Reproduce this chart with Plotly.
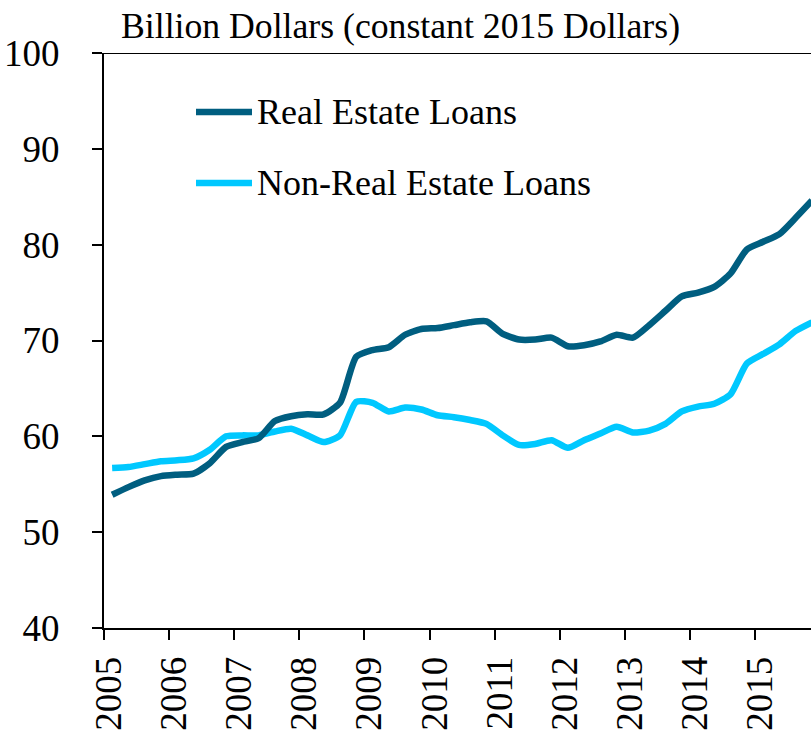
import plotly.graph_objects as go

years = list(range(2005, 2016))
quarters = [y + (q - 0.5) / 4 for y in years for q in range(1, 5)]

series_names = ["Real Estate Loans", "Non-Real Estate Loans"]
series_colors = ["#005E80", "#00C8FF"]

real_estate = [
    53.9, 54.7, 55.4, 55.85, 56.0, 56.1, 57.2, 58.9, 59.4, 59.8, 61.6, 62.1,
    62.3, 62.3, 63.5, 68.3, 69.0, 69.3, 70.6, 71.2, 71.3, 71.6, 71.9, 72.0,
    70.7, 70.1, 70.1, 70.3, 69.4, 69.5, 69.9, 70.6, 70.3, 71.6, 73.1, 74.6,
    75.0, 75.6, 77.0, 79.5, 80.3, 81.1, 82.8, 84.6,
]
non_real_estate = [
    56.7, 56.8, 57.1, 57.4, 57.5, 57.7, 58.6, 60.0, 60.1, 60.1, 60.5, 60.8,
    60.1, 59.4, 60.1, 63.6, 63.5, 62.6, 63.0, 62.8, 62.2, 62.0, 61.7, 61.3,
    60.1, 59.1, 59.2, 59.6, 58.8, 59.6, 60.3, 61.0, 60.4, 60.6, 61.3, 62.6,
    63.1, 63.4, 64.4, 67.6, 68.6, 69.6, 71.0, 71.9,
]
y_ticks = [40, 50, 60, 70, 80, 90, 100]
title_text = "Billion Dollars (constant 2015 Dollars)"

FONT = "Liberation Serif"
W, H = 811, 734
ML, MT, MB = 104, 53, 106
PW, PH = W - ML, H - MT - MB

fig = go.Figure()
for name, color, vals in [(series_names[1], series_colors[1], non_real_estate),
                          (series_names[0], series_colors[0], real_estate)]:
    fig.add_trace(go.Scatter(
        x=quarters, y=vals, mode="lines", name=name,
        line=dict(color=color, width=6.5, shape="spline", smoothing=0.6),
        showlegend=False,
    ))

# manual legend
legend_rows_px = [112, 183]
shapes = []
annotations = []
for name, color, ypx in zip(series_names, series_colors, legend_rows_px):
    yp = (H - MB - ypx) / PH
    shapes.append(dict(type="line", xref="paper", yref="paper",
                       x0=(196 - ML) / PW, x1=(252 - ML) / PW, y0=yp, y1=yp,
                       line=dict(color=color, width=6.5)))
    annotations.append(dict(text=name, xref="paper", yref="paper",
                            x=(255 - ML) / PW, y=yp, xanchor="left", yanchor="middle",
                            showarrow=False, font=dict(family=FONT, size=36, color="black")))

# top border line
shapes.append(dict(type="line", xref="paper", yref="y", x0=0, x1=1, y0=100, y1=100,
                   line=dict(color="black", width=2)))

annotations.append(dict(text=title_text, xref="paper", yref="paper",
                        x=(119 - ML) / PW, y=(H - MB - 26) / PH,
                        xanchor="left", yanchor="middle", showarrow=False,
                        font=dict(family=FONT, size=35.7, color="black")))

fig.update_layout(
    width=W, height=H,
    margin=dict(l=ML, r=0, t=MT, b=MB, pad=0, autoexpand=False),
    paper_bgcolor="white", plot_bgcolor="white",
    shapes=shapes, annotations=annotations,
    font=dict(family=FONT, color="black"),
)
fig.update_xaxes(
    range=[2005, 2005 + PW / 65.1], tickmode="array", tickvals=years,
    ticktext=[str(y) for y in years], tickangle=-90,
    showgrid=False, zeroline=False, showline=True, linecolor="black", linewidth=2,
    ticks="outside", ticklen=10, tickwidth=2, tickcolor="black",
    ticklabelstandoff=2, ticklabelshift=5, automargin=False,
    tickfont=dict(family=FONT, size=37, color="black"),
)
fig.update_yaxes(
    range=[40, 100], tickmode="array", tickvals=y_ticks,
    showgrid=False, zeroline=False, showline=True, linecolor="black", linewidth=2,
    ticks="outside", ticklen=10, tickwidth=2, tickcolor="black",
    ticklabelstandoff=25, automargin=False,
    tickfont=dict(family=FONT, size=37, color="black"),
)

fig.write_html(
    "out.html",
    config={"displayModeBar": False},
    post_script="document.body.style.margin='0';document.body.style.overflow='hidden';",
)
